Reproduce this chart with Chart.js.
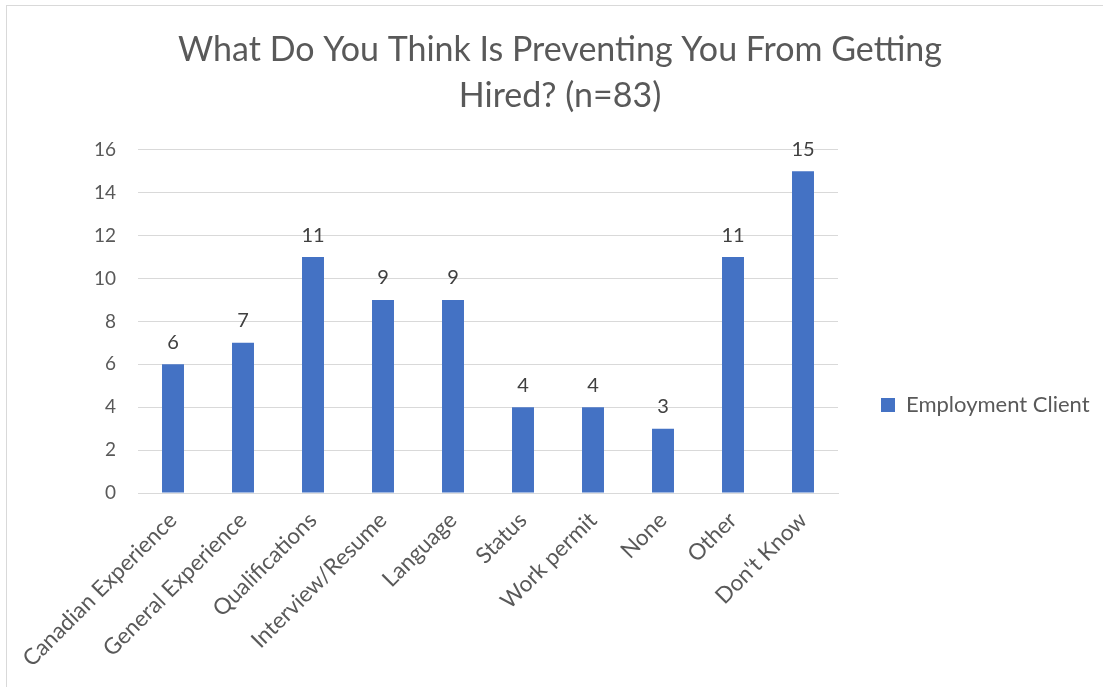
<!DOCTYPE html>
<html>
<head>
<meta charset="utf-8">
<script src="https://cdn.jsdelivr.net/npm/chart.js@4.4.1/dist/chart.umd.min.js"></script>
<style>
  html, body { margin: 0; padding: 0; background: #ffffff; overflow: hidden; }
  #wrap { position: relative; width: 1103px; height: 687px; }
  #frame { position: absolute; left: 6px; top: 5px; width: 1120px; height: 700px; border: 1px solid #d9d9d9; box-sizing: border-box; pointer-events: none; }
  canvas { position: absolute; left: 0; top: 0; }
</style>
</head>
<body>
<div id="wrap">
  <canvas id="c" width="1103" height="687"></canvas>
  <div id="frame"></div>
</div>
<script>
const categories = ["Canadian Experience", "General Experience", "Qualifications", "Interview/Resume", "Language", "Status", "Work permit", "None", "Other", "Don't Know"];
const seriesName = "Employment Client";
const values = [6, 7, 11, 9, 9, 4, 4, 3, 11, 15];
const titleLines = ["What Do You Think Is Preventing You From Getting", "Hired? (n=83)"];
const yMin = 0, yMax = 16, yStep = 2;

const FONT = "Lato, 'Open Sans', sans-serif";
const TEXT = "#595959";
const LEGEND_WIDTH = 265;

const dataLabels = {
  id: 'dataLabels',
  afterDatasetsDraw(chart) {
    const ctx = chart.ctx;
    ctx.save();
    ctx.font = "20px " + FONT;
    ctx.fillStyle = "#404040";
    ctx.textAlign = "center";
    ctx.textBaseline = "middle";
    chart.data.datasets.forEach((ds, i) => {
      const meta = chart.getDatasetMeta(i);
      meta.data.forEach((bar, j) => {
        ctx.fillText(String(ds.data[j]), bar.x, bar.y - 22);
      });
    });
    ctx.restore();
  }
};

const fixLegendWidth = {
  id: 'fixLegendWidth',
  beforeLayout(chart) {
    const lg = chart.legend;
    if (lg && !lg.__fixed) {
      const orig = lg.fit.bind(lg);
      lg.fit = function () { orig(); this.width = LEGEND_WIDTH; };
      lg.__fixed = true;
    }
  }
};

new Chart(document.getElementById('c'), {
  type: 'bar',
  data: {
    labels: categories,
    datasets: [{
      label: seriesName,
      data: values,
      backgroundColor: '#4472C4',
      borderWidth: 0,
      barPercentage: 1,
      categoryPercentage: 0.314
    }]
  },
  options: {
    responsive: false,
    animation: false,
    events: [],
    layout: { padding: { left: 17, right: 0, top: 0, bottom: 0 } },
    plugins: {
      title: {
        display: true,
        text: titleLines,
        color: TEXT,
        font: { family: FONT, size: 34, weight: 'normal', lineHeight: 1.35 },
        padding: { top: 27, bottom: 31 }
      },
      legend: {
        display: true,
        position: 'right',
        title: { display: true, text: '', font: { size: 10, lineHeight: 1 }, padding: { top: 56, bottom: 57 } },
        labels: {
          color: TEXT,
          font: { family: FONT, size: 22 },
          boxWidth: 14,
          boxHeight: 14,
          padding: 43
        }
      },
      tooltip: { enabled: false }
    },
    scales: {
      x: {
        grid: { display: false, drawTicks: false },
        border: { display: true, color: '#d9d9d9', width: 1 },
        ticks: {
          color: TEXT,
          font: { family: FONT, size: 22.5 },
          minRotation: 45,
          maxRotation: 45,
          autoSkip: false,
          padding: 14
        },
        afterFit(scale) { scale.height = 194; }
      },
      y: {
        min: yMin,
        max: yMax,
        grid: { color: '#d9d9d9', lineWidth: 1, drawTicks: false },
        border: { display: false },
        ticks: {
          stepSize: yStep,
          color: TEXT,
          font: { family: FONT, size: 19 },
          padding: 22
        },
        afterFit(scale) { scale.width = 121; }
      }
    }
  },
  plugins: [dataLabels, fixLegendWidth]
});
</script>
</body>
</html>
